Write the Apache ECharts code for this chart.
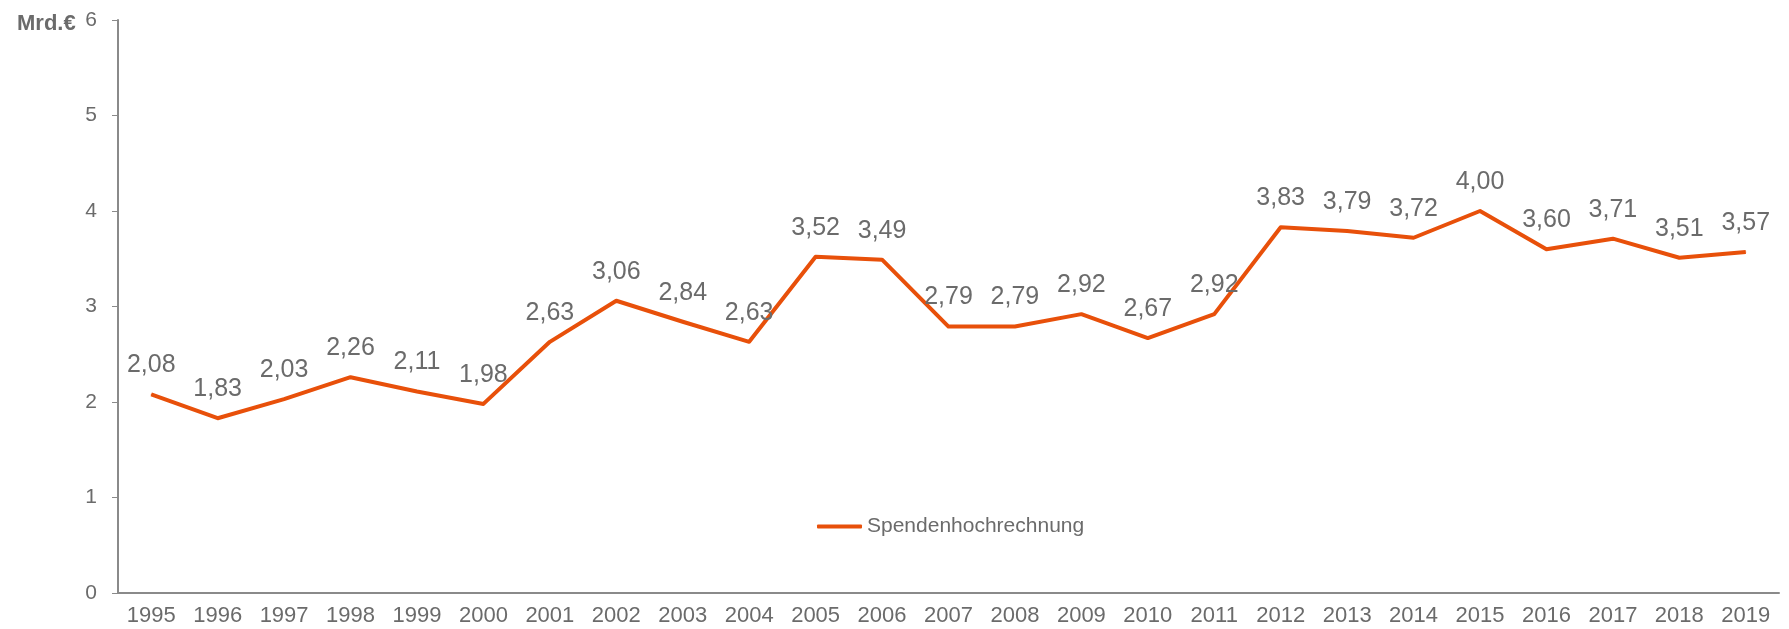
<!DOCTYPE html>
<html>
<head>
<meta charset="utf-8">
<script src="https://cdn.jsdelivr.net/npm/echarts@6/dist/echarts.min.js"></script>
<style>
  html, body { margin: 0; padding: 0; background: #fff; }
  #chart { width: 1789px; height: 629px; }
</style>
</head>
<body>
<div id="chart"></div>
<script>
const years = ['1995', '1996', '1997', '1998', '1999', '2000', '2001', '2002', '2003', '2004',
  '2005', '2006', '2007', '2008', '2009', '2010', '2011', '2012', '2013', '2014',
  '2015', '2016', '2017', '2018', '2019']
const spenden = [2.08, 1.83, 2.03, 2.26, 2.11, 1.98, 2.63, 3.06, 2.84, 2.63,
  3.52, 3.49, 2.79, 2.79, 2.92, 2.67, 2.92, 3.83, 3.79, 3.72,
  4.00, 3.60, 3.71, 3.51, 3.57]

const font = 'Liberation Sans, Arial, Helvetica, sans-serif'
const grey = '#6b6b6b'

const chart = echarts.init(document.getElementById('chart'))
chart.setOption({
  animation: false,
  textStyle: { fontFamily: font },
  title: {
    text: 'Mrd.€',
    left: 12,
    top: 8,
    textStyle: { color: grey, fontSize: 22, fontWeight: 'bold', fontFamily: font }
  },
  legend: {
    left: 812,
    top: 511,
    itemWidth: 45,
    itemHeight: 4,
    icon: 'roundRect',
    textStyle: { color: grey, fontSize: 21, fontFamily: font },
    data: ['Spendenhochrechnung']
  },
  grid: { left: 118, right: 10, top: 20, bottom: 36 },
  xAxis: {
    type: 'category',
    data: years,
    boundaryGap: true,
    axisLine: { lineStyle: { color: '#8a8a8a', width: 2 } },
    axisTick: { show: false },
    axisLabel: { color: grey, fontSize: 22, margin: 12, fontFamily: font }
  },
  yAxis: {
    type: 'value',
    min: 0,
    max: 6,
    interval: 1,
    splitLine: { show: false },
    axisLine: { show: true, lineStyle: { color: '#8a8a8a', width: 2 } },
    axisTick: { show: true, length: 6, lineStyle: { color: '#8a8a8a', width: 1 } },
    axisLabel: { color: grey, fontSize: 21, margin: 21, fontFamily: font }
  },
  series: [{
    name: 'Spendenhochrechnung',
    type: 'line',
    data: spenden,
    showSymbol: true,
    symbol: 'circle',
    symbolSize: 1,
    lineStyle: { color: '#e8500a', width: 4, join: 'round' },
    itemStyle: { color: '#e8500a' },
    label: {
      show: true,
      position: 'top',
      distance: 16,
      color: grey,
      fontSize: 25,
      fontFamily: font,
      formatter: p => p.value.toFixed(2).replace('.', ',')
    }
  }]
})
</script>
</body>
</html>
